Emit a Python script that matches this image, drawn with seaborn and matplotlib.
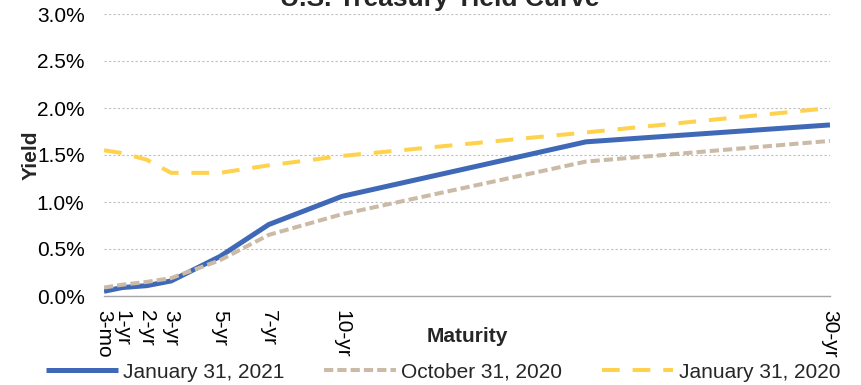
import matplotlib
matplotlib.use("Agg")
import matplotlib.pyplot as plt
from matplotlib.ticker import PercentFormatter
import pandas as pd
import seaborn as sns

# Maturities in years (20-yr is plotted but not labelled)
maturity_years = [0.25, 1, 2, 3, 5, 7, 10, 20, 30]
tick_years = [0.25, 1, 2, 3, 5, 7, 10, 30]
tick_labels = ["3-mo", "1-yr", "2-yr", "3-yr", "5-yr", "7-yr", "10-yr", "30-yr"]

# Yields in percent
yield_jan_2021 = [0.05, 0.09, 0.11, 0.16, 0.42, 0.76, 1.06, 1.64, 1.82]
yield_oct_2020 = [0.09, 0.12, 0.15, 0.19, 0.38, 0.65, 0.87, 1.43, 1.65]
yield_jan_2020 = [1.55, 1.52, 1.45, 1.31, 1.31, 1.39, 1.49, 1.74, 2.00]

series_names = ["January 31, 2021", "October 31, 2020", "January 31, 2020"]
series_values = [yield_jan_2021, yield_oct_2020, yield_jan_2020]

sns.set_theme(style="white")
plt.rcParams["font.family"] = ["Liberation Sans", "DejaVu Sans"]

FS = 15

fig = plt.figure(figsize=(8.61, 3.85), dpi=100)
ax = fig.add_axes([104 / 861, 1 - 296 / 385, 726 / 861, 282 / 385])

styles = [
    dict(color="#3F69B7", lw=3.6, linestyle="-", solid_capstyle="butt"),
    dict(color="#CBBBA6", lw=2.9, linestyle=(0, (2.3, 1.0))),
    dict(color="#FFD24D", lw=2.9, linestyle=(0, (4.4, 3.2))),
]

for name, vals, st in zip(series_names, series_values, styles):
    df = pd.DataFrame({"Maturity": maturity_years, "Yield": vals})
    sns.lineplot(data=df, x="Maturity", y="Yield", ax=ax, label=name, **st)

ax.set_xlim(0.25, 30)
ax.set_ylim(0, 3.0)
ax.set_yticks([0, 0.5, 1.0, 1.5, 2.0, 2.5, 3.0])
ax.yaxis.set_major_formatter(PercentFormatter(decimals=1))
ax.set_xticks(tick_years)
ax.set_xticklabels(tick_labels, rotation=270, ha="center", va="top")
ax.tick_params(axis="both", length=0, labelsize=FS, colors="black")
ax.tick_params(axis="y", pad=14)
ax.tick_params(axis="x", pad=10)

ax.yaxis.grid(True, color="#BFBFBF", linestyle=(0, (2, 2)), linewidth=0.8)
ax.xaxis.grid(False)
for side in ["left", "right", "top"]:
    ax.spines[side].set_visible(False)
ax.spines["bottom"].set_color("#A6A6A6")
ax.spines["bottom"].set_linewidth(1.0)
ax.set_axisbelow(True)

ax.set_xlabel("Maturity", fontsize=FS, fontweight="bold")
ax.xaxis.set_label_coords(0.5, -0.11)
ax.set_ylabel("Yield", fontsize=FS, fontweight="bold")
ax.yaxis.set_label_coords(-0.088, 0.5)

fig.text(440 / 861, 1 - 6 / 385, "U.S. Treasury Yield Curve", ha="center",
         va="baseline", fontsize=19, fontweight="bold")

handles, labels = ax.get_legend_handles_labels()
if ax.get_legend():
    ax.get_legend().remove()
fig.legend(handles, labels, ncol=3, loc="center", bbox_to_anchor=(443 / 861, 1 - 372 / 385),
           frameon=False, fontsize=FS, handlelength=3.45, handletextpad=0.25,
           columnspacing=1.9, borderpad=0, borderaxespad=0)

fig.savefig("out.png", dpi=100)
